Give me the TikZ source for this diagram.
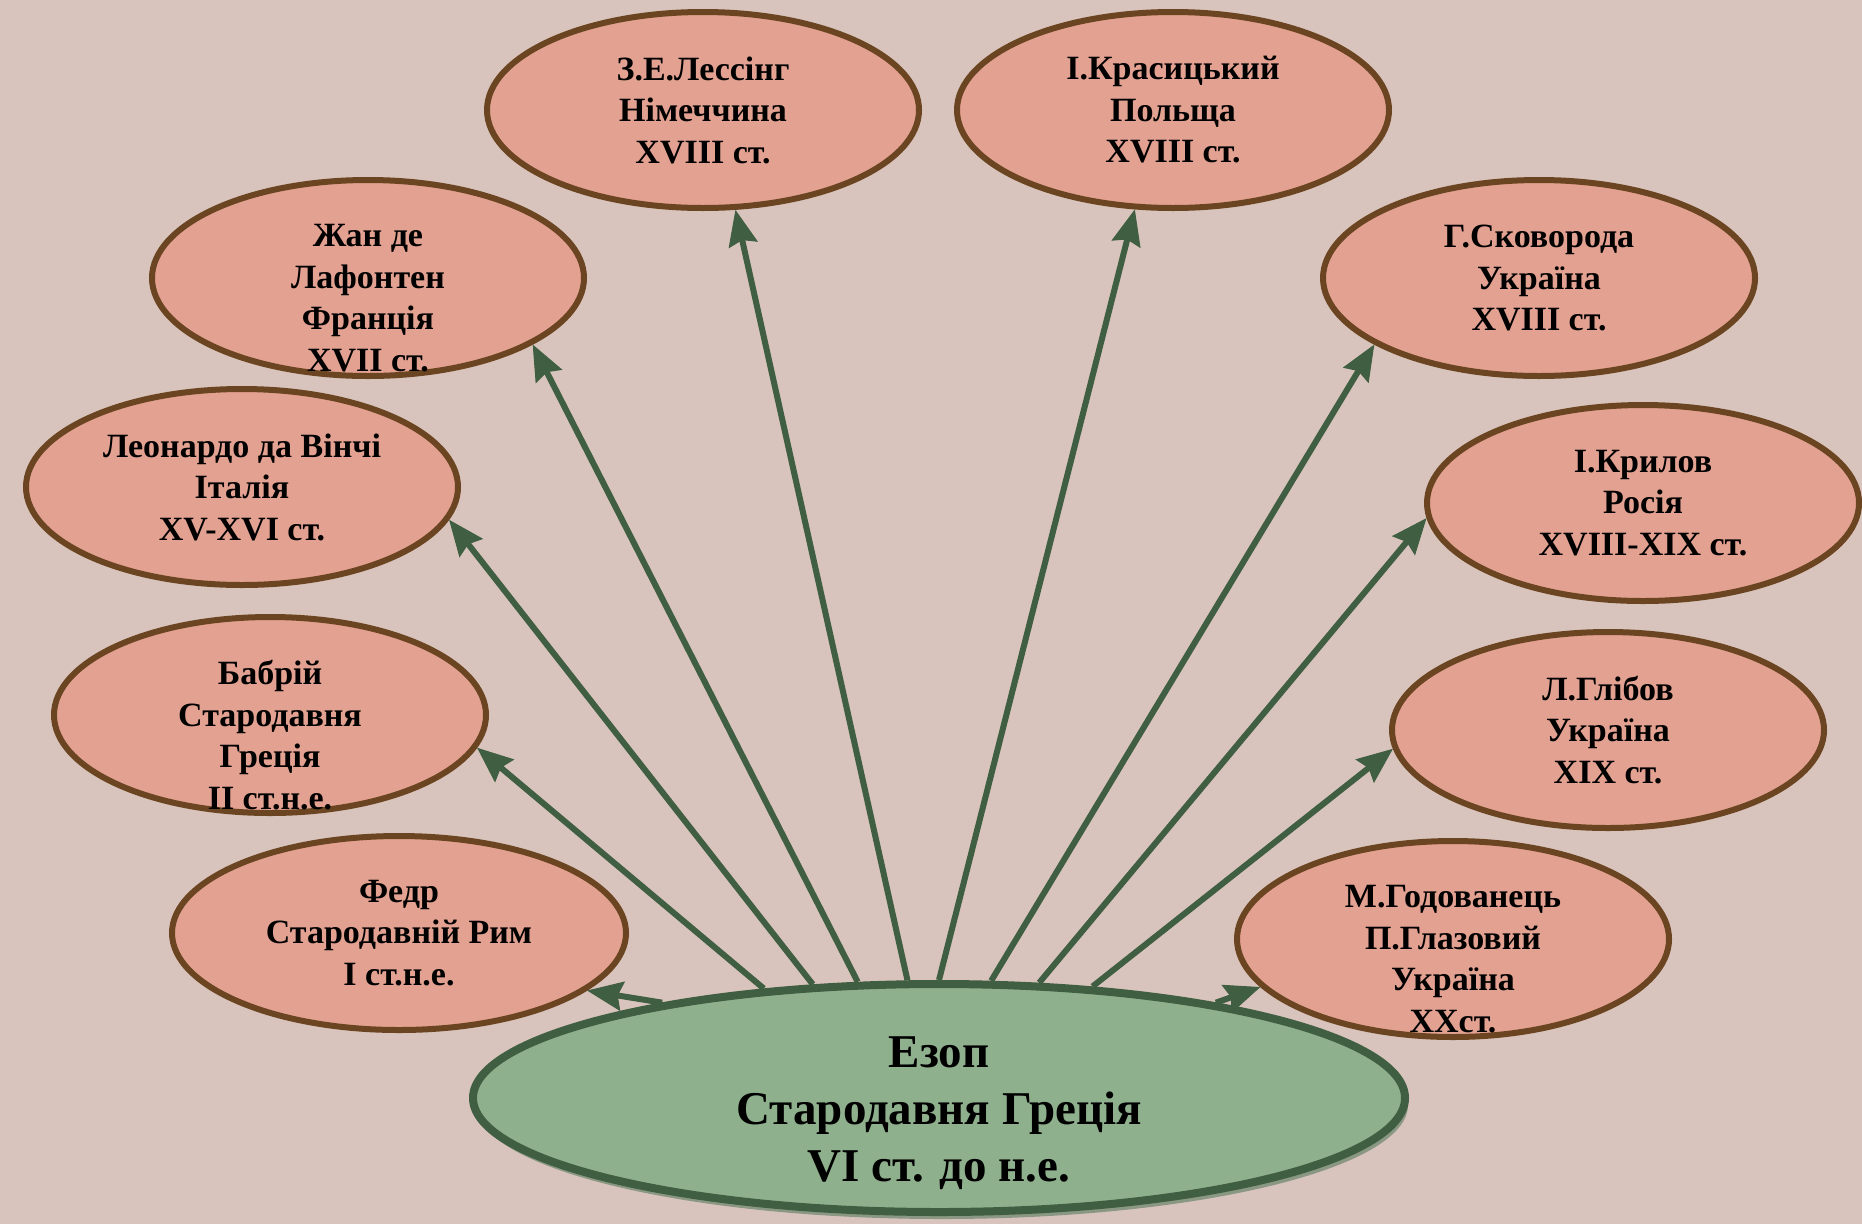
\documentclass[tikz,border=0pt]{standalone}
\usepackage{fontspec}
\setmainfont{Liberation Serif}
\usetikzlibrary{shapes.geometric,arrows.meta,shadows}

\definecolor{bgpaper}{HTML}{D8C4BC}
\definecolor{petal}{HTML}{E3A191}
\definecolor{bark}{HTML}{6B4521}
\definecolor{sage}{HTML}{8FB08D}
\definecolor{pine}{HTML}{405E41}
\definecolor{moss}{HTML}{8A9783}

\tikzset{
  petal/.style={ellipse, draw=bark, fill=petal, line width=6pt, minimum width=432pt, minimum height=196pt, inner sep=0pt},
  petaltext/.style={align=center, inner sep=0pt, font=\bfseries\fontsize{34}{41.5}\selectfont},
  roottext/.style={align=center, inner sep=0pt, font=\bfseries\fontsize{47}{57}\selectfont},
  ray/.style={draw=pine, line width=6pt, -{Stealth[length=36pt,width=30pt,inset=5pt,line width=1pt]}}
}

\begin{document}
\begin{tikzpicture}[x=1pt,y=-1pt]
\fill[bgpaper] (0,0) rectangle (1862,1224);
\useasboundingbox (0,0) rectangle (1862,1224);

\node[ellipse, draw=pine, fill=sage, line width=8pt, minimum width=932pt, minimum height=228pt, inner sep=0pt,
  drop shadow={shadow xshift=3pt, shadow yshift=-7pt, fill=moss, opacity=1}] (ezop) at (939,1098) {};
\node[roottext] (ezop-txt) at (939,1113) {Езоп\\Стародавня Греція\\VI ст. до н.е.};

\node[petal, minimum width=454pt, minimum height=194pt] (fedr) at (399,933) {};
\node[petal] (babrij) at (270,715) {};
\node[petal] (leonardo) at (242,487) {};
\node[petal] (lafonten) at (368,278) {};
\node[petal] (lessing) at (703,110) {};
\node[petal] (krasytsky) at (1173,110) {};
\node[petal] (skovoroda) at (1539,278) {};
\node[petal] (krylov) at (1643,503) {};
\node[petal] (glibov) at (1608,730) {};
\node[petal] (hodovanets) at (1453,939) {};

\node[petaltext] (fedr-txt) at (fedr.center) {Федр\\Стародавній Рим\\I ст.н.е.};
\node[petaltext] (babrij-txt) at ([yshift=-20pt]babrij.center) {Бабрій\\Стародавня\\Греція\\II ст.н.е.};
\node[petaltext] (leonardo-txt) at (leonardo.center) {Леонардо да Вінчі\\Італія\\XV-XVI ст.};
\node[petaltext] (lafonten-txt) at ([yshift=-20pt]lafonten.center) {Жан де\\Лафонтен\\Франція\\XVII ст.};
\node[petaltext] (lessing-txt) at (lessing.center) {З.Е.Лессінг\\Німеччина\\XVIII ст.};
\node[petaltext] (krasytsky-txt) at (krasytsky.center) {І.Красицький\\Польща\\XVIII ст.};
\node[petaltext] (skovoroda-txt) at (skovoroda.center) {Г.Сковорода\\Україна\\XVIII ст.};
\node[petaltext] (krylov-txt) at (krylov.center) {І.Крилов\\Росія\\XVIII-XIX ст.};
\node[petaltext] (glibov-txt) at (glibov.center) {Л.Глібов\\Україна\\XIX ст.};
\node[petaltext] (hodovanets-txt) at ([yshift=-20pt]hodovanets.center) {М.Годованець\\П.Глазовий\\Україна\\XXст.};

\draw[ray] (ezop.161.5) -- (fedr.343.2);
\draw[ray] (ezop.148.4) -- (babrij.-9.1);
\draw[ray] (ezop.138.6) -- (leonardo.-9.3);
\draw[ray] (ezop.125.4) -- (lafonten.-22.1);
\draw[ray] (ezop.105.6) -- (lessing.-72.4);
\draw[ray] (ezop.90.5) -- (krasytsky.249.4);
\draw[ray] (ezop.66.5) -- (skovoroda.202.2);
\draw[ray] (ezop.49.9) -- (krylov.184.5);
\draw[ray] (ezop.36.3) -- (glibov.185.7);
\draw[ray] (ezop.19.7) -- (hodovanets.194.5);
\end{tikzpicture}
\end{document}
